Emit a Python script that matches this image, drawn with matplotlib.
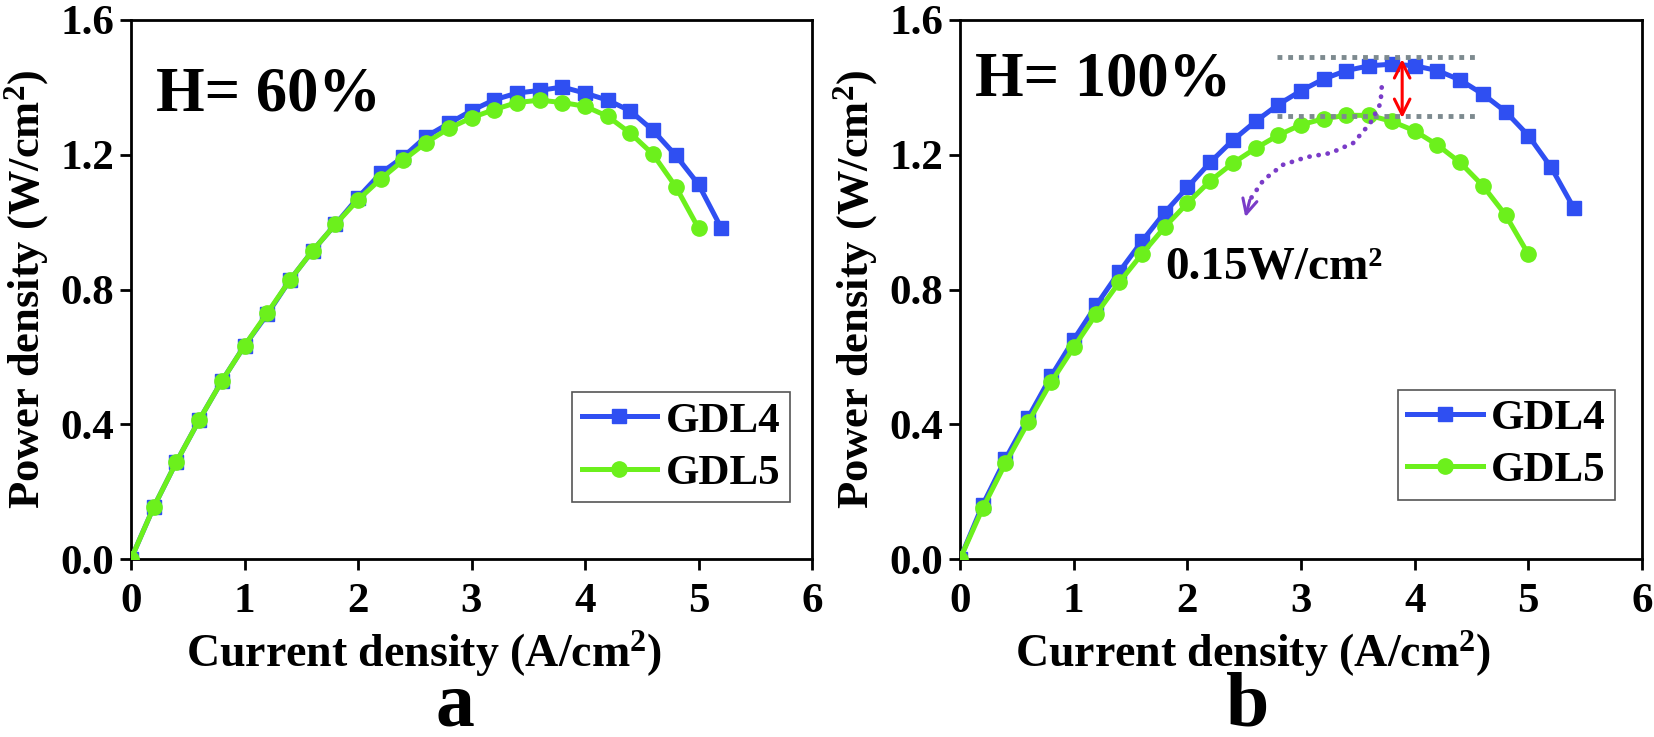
import matplotlib
matplotlib.use('Agg')
import matplotlib.pyplot as plt

plt.rcParams['font.family'] = ['Liberation Serif', 'DejaVu Serif']
plt.rcParams['font.weight'] = 'bold'
plt.rcParams['mathtext.fontset'] = 'custom'
plt.rcParams['mathtext.rm'] = 'Liberation Serif:bold'
plt.rcParams['mathtext.bf'] = 'Liberation Serif:bold'
plt.rcParams['mathtext.default'] = 'bf'

# ---- data ----
# panel a, H = 60%
a_x4 = [0.0, 0.2, 0.4, 0.6, 0.8, 1.0, 1.2, 1.4, 1.6, 1.8, 2.0, 2.2, 2.4, 2.6,
        2.8, 3.0, 3.2, 3.4, 3.6, 3.8, 4.0, 4.2, 4.4, 4.6, 4.8, 5.0, 5.2]
a_y4 = [0.0, 0.154, 0.288, 0.412, 0.528, 0.633, 0.726, 0.828, 0.915, 0.993,
        1.073, 1.145, 1.194, 1.254, 1.293, 1.331, 1.363, 1.383, 1.391, 1.401,
        1.383, 1.362, 1.330, 1.272, 1.198, 1.112, 0.983]
a_x5 = [0.0, 0.2, 0.4, 0.6, 0.8, 1.0, 1.2, 1.4, 1.6, 1.8, 2.0, 2.2, 2.4, 2.6,
        2.8, 3.0, 3.2, 3.4, 3.6, 3.8, 4.0, 4.2, 4.4, 4.6, 4.8, 5.0]
a_y5 = [0.0, 0.154, 0.288, 0.412, 0.528, 0.633, 0.730, 0.828, 0.915, 0.993,
        1.066, 1.128, 1.184, 1.236, 1.278, 1.310, 1.334, 1.355, 1.362, 1.355,
        1.344, 1.314, 1.264, 1.201, 1.105, 0.982]

# panel b, H = 100%
b_x4 = [0.0, 0.2, 0.4, 0.6, 0.8, 1.0, 1.2, 1.4, 1.6, 1.8, 2.0, 2.2, 2.4, 2.6,
        2.8, 3.0, 3.2, 3.4, 3.6, 3.8, 4.0, 4.2, 4.4, 4.6, 4.8, 5.0, 5.2, 5.4]
b_y4 = [0.0, 0.161, 0.297, 0.420, 0.542, 0.651, 0.754, 0.852, 0.943, 1.028,
        1.103, 1.177, 1.243, 1.299, 1.349, 1.390, 1.425, 1.450, 1.464, 1.469,
        1.464, 1.450, 1.422, 1.380, 1.328, 1.257, 1.163, 1.042]
b_x5 = [0.0, 0.2, 0.4, 0.6, 0.8, 1.0, 1.2, 1.4, 1.6, 1.8, 2.0, 2.2, 2.4, 2.6,
        2.8, 3.0, 3.2, 3.4, 3.6, 3.8, 4.0, 4.2, 4.4, 4.6, 4.8, 5.0]
b_y5 = [0.0, 0.151, 0.284, 0.406, 0.524, 0.628, 0.728, 0.821, 0.905, 0.985,
        1.056, 1.122, 1.175, 1.219, 1.258, 1.289, 1.307, 1.317, 1.317, 1.299,
        1.271, 1.229, 1.177, 1.108, 1.021, 0.905]

# annotation in panel b
peak_hi = 1.490
peak_lo = 1.315
guide_x = [2.79, 4.57]
gap_x = 3.89
gap_label = '0.15W/cm²'
curve_x = [3.71, 3.70, 3.61, 3.46, 3.26, 3.05, 2.84, 2.67, 2.55]
curve_y = [1.40, 1.353, 1.294, 1.235, 1.205, 1.193, 1.17, 1.125, 1.066]
curve_tip = (2.51, 1.015)

blue = '#2f4ff2'
green = '#6cf01c'
purple = '#7a3cc8'
xticks = [0, 1, 2, 3, 4, 5, 6]
yticks = [0.0, 0.4, 0.8, 1.2, 1.6]

fig = plt.figure(figsize=(16.54, 7.37), dpi=100)
ax_a = fig.add_axes([131 / 1654, 1 - 559 / 737, 681 / 1654, 539 / 737])
ax_b = fig.add_axes([960 / 1654, 1 - 559 / 737, 682 / 1654, 539 / 737])


def style(ax, x4, y4, x5, y5, title, title_xy, leg_xy):
    ax.plot(x4, y4, color=blue, lw=3.6, marker='s', ms=9.5, label='GDL4', zorder=3)
    ax.plot(x5, y5, color=green, lw=3.6, marker='o', ms=11, label='GDL5', zorder=4)
    ax.set_xlim(0, 6)
    ax.set_ylim(0, 1.6)
    ax.set_xticks(xticks)
    ax.set_yticks(yticks)
    ax.set_yticklabels([f'{v:.1f}' for v in yticks])
    for s in ax.spines.values():
        s.set_linewidth(2)
    ax.tick_params(direction='out', length=8, width=2, labelsize=31)
    ax.tick_params(axis='x', pad=9)
    ax.tick_params(axis='y', pad=4)
    ax.set_xlabel('Current density (A/cm$^2$)', fontsize=33, fontweight='bold')
    ax.xaxis.set_label_coords(0.43, -0.13)
    ax.set_ylabel('Power density (W/cm$^2$)', fontsize=32, fontweight='bold')
    ax.yaxis.set_label_coords(-0.118, 0.5)
    ax.text(title_xy[0], title_xy[1], title, fontsize=45, fontweight='bold',
            va='center', ha='left')
    leg = ax.legend(loc='upper left', bbox_to_anchor=leg_xy, fontsize=31,
                    numpoints=1, handlelength=1.75, handletextpad=0.2,
                    labelspacing=0.3, borderpad=0.22, borderaxespad=0,
                    fancybox=False, framealpha=1)
    leg.get_frame().set_edgecolor('#555555')
    leg.get_frame().set_linewidth(1.2)


style(ax_a, a_x4, a_y4, a_x5, a_y5, 'H= 60%', (0.22, 1.375), (0.648, 0.31))
style(ax_b, b_x4, b_y4, b_x5, b_y5, 'H= 100%', (0.13, 1.42), (0.642, 0.314))

# guide lines and gap arrow
for yv in (peak_hi, peak_lo):
    ax_b.plot(guide_x, [yv, yv], color='#7d8a8f', lw=3.5,
              linestyle=(0, (1, 1.2)), dash_capstyle='butt', zorder=5)
ax_b.annotate('', xy=(gap_x, peak_lo - 0.006), xytext=(gap_x, peak_hi - 0.006),
              arrowprops=dict(arrowstyle='<->', color='red', lw=2.2,
                              mutation_scale=28, shrinkA=0, shrinkB=0),
              zorder=6)
ax_b.plot(curve_x, curve_y, color=purple, lw=3.4, linestyle=(0, (0.05, 1.9)),
          dash_capstyle='round', zorder=6)
ax_b.annotate('', xy=curve_tip, xytext=(curve_x[-1], curve_y[-1]),
              arrowprops=dict(arrowstyle='->', color=purple, lw=2.2,
                              mutation_scale=26, shrinkA=0, shrinkB=0),
              zorder=6)
ax_b.text(1.81, 0.864, gap_label, fontsize=34, fontweight='bold',
          ha='left', va='center')

fig.text(455 / 1654, 0.016, 'a', fontsize=56, fontweight='bold',
         ha='center', va='baseline')
fig.text(1248 / 1654, 0.016, 'b', fontsize=56, fontweight='bold',
         ha='center', va='baseline')

fig.savefig('out.png', dpi=100)
